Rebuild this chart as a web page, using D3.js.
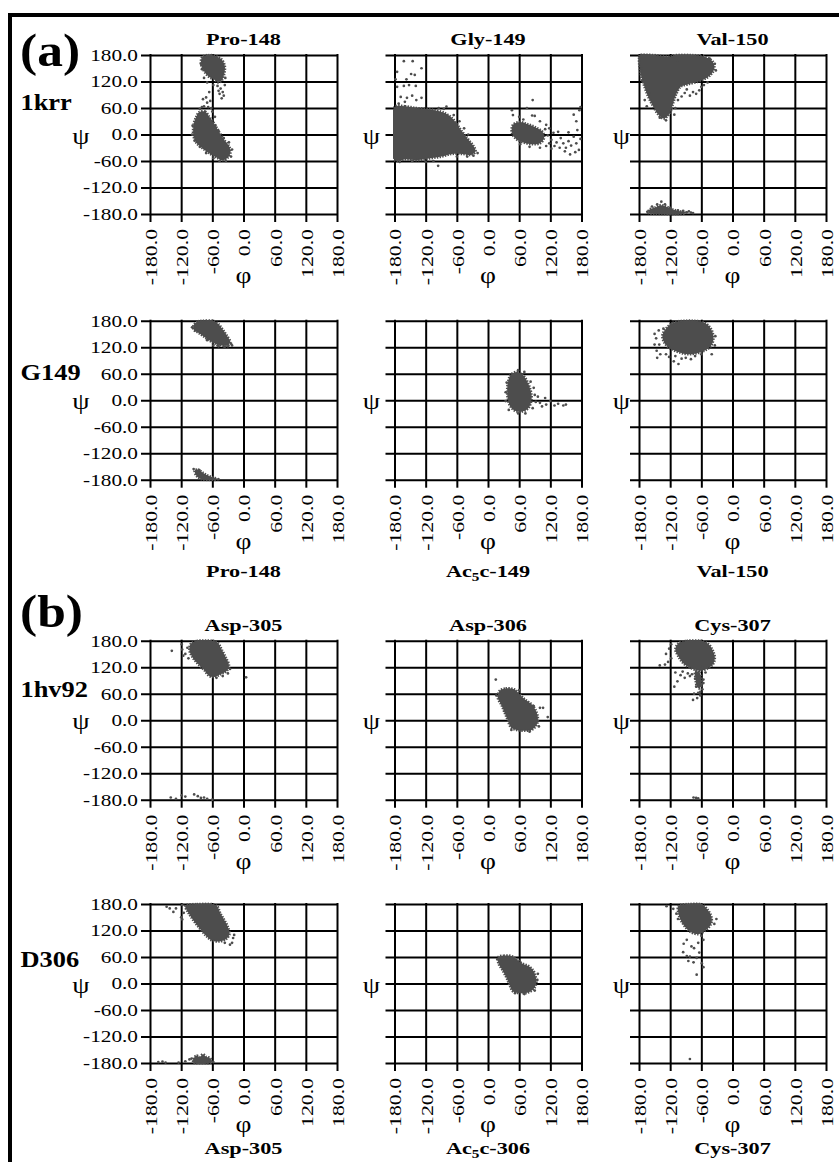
<!DOCTYPE html>
<html>
<head>
<meta charset="utf-8">
<script src="https://cdn.jsdelivr.net/npm/d3@7"></script>
<style>
  html, body { margin: 0; padding: 0; background: #fff; }
  svg { display: block; }
</style>
</head>
<body>
<svg id="fig" width="839" height="1162"></svg>
<script>
// ---- axis ticks (degrees) ----
const phiTicks = [-180, -120, -60, 0, 60, 120, 180];
const psiTicks = [-180, -120, -60, 0, 60, 120, 180];

// ---- labels ----
const groupLabels = ["(a)", "(b)"];
const rowLabels = ["1krr", "G149", "1hv92", "D306"];
const titlesAbove1krr = ["Pro-148", "Gly-149", "Val-150"];
const titlesBelowG149 = ["Pro-148", "Ac_5c-149", "Val-150"];
const titlesAbove1hv92 = ["Asp-305", "Asp-306", "Cys-307"];
const titlesBelowD306 = ["Asp-305", "Ac_5c-306", "Cys-307"];

// ---- (phi, psi) samples: dense regions as outlines, sparse frames as points ----
// 1krr, Pro-148
const pro148_1krr_core = [
  [[-79,176],[-68,180],[-55,178],[-42,170],[-36,155],[-37,138],[-42,122],[-48,118],[-56,124],[-66,130],[-74,140],[-80,152],[-82,165]],
  [[-86,50],[-74,52],[-66,40],[-58,28],[-50,12],[-44,0],[-36,-14],[-28,-26],[-25,-40],[-30,-52],[-40,-58],[-52,-52],[-64,-44],[-78,-32],[-90,-20],[-96,-5],[-97,12],[-95,28],[-91,40]]
];
const pro148_1krr_dots = [[-70,178],[-62,180],[-82,160],[-80,148],[-76,128],[-70,118],[-50,110],[-44,104],[-40,96],[-46,92],[-38,88],[-42,82],[-48,99],[-36,112],[-35,128],[-58,112],[-66,96],[-72,84],[-78,80],[-70,72],[-64,76],[-76,64],[-68,62],[-84,58],[-80,62],[-60,52],[-55,40],[-62,60],[-98,20],[-99,0],[-94,-14],[-84,-28],[-72,-42],[-58,-54],[-46,-60],[-34,-60],[-24,-50],[-22,-34],[-28,-18],[-38,-8],[-48,8],[-54,20]];

// 1krr, Gly-149
const gly149_1krr_core = [
  [[-180,62],[-160,64],[-138,60],[-118,58],[-98,54],[-82,48],[-70,38],[-60,24],[-52,10],[-44,-2],[-36,-14],[-28,-26],[-24,-38],[-32,-46],[-50,-44],[-70,-44],[-90,-50],[-112,-54],[-135,-58],[-158,-56],[-180,-58]],
  [[48,22],[60,28],[75,24],[92,16],[105,6],[108,-8],[100,-20],[85,-22],[68,-18],[54,-10],[46,4]]
];
const gly149_1krr_dots = [[-162,166],[-145,166],[-128,150],[-175,142],[-157,125],[-148,137],[-141,135],[-139,110],[-162,110],[-152,112],[-175,108],[-168,85],[-156,83],[-146,88],[-128,83],[-138,78],[-80,63],[-96,-71],[-120,-62],[-105,-60],[-20,-42],[-28,-48],[-40,-50],[-60,-50],[-146,-60],[-170,-62],[-85,58],[-95,60],[-66,44],[-55,30],[-46,14],[-38,0],[-178,125],[-172,70],[-160,74],
  [86,78],[75,60],[46,55],[48,44],[85,43],[90,42],[60,40],[68,34],[100,30],[112,22],[118,14],[115,-2],[122,-12],[126,4],[132,-18],[135,6],[140,-8],[145,-20],[150,-30],[155,-15],[160,-25],[165,-5],[170,-20],[175,-35],[178,-10],[172,10],[168,-40],[158,-45],[148,-38],[138,-30],[122,-32],[112,-26],[100,-30],[80,-28],[62,-22],[170,30],[176,55],[178,62],[165,45],[155,5],[128,-26],[118,-20],[110,12]];

// 1krr, Val-150
const val150_1krr_core = [
  [[-178,180],[-150,180],[-122,176],[-110,180],[-75,180],[-52,175],[-38,165],[-35,150],[-40,138],[-50,128],[-65,120],[-85,114],[-100,108],[-108,92],[-114,72],[-120,50],[-132,36],[-142,44],[-152,62],[-162,85],[-170,110],[-177,140]],
  [[-160,-170],[-150,-166],[-138,-160],[-126,-164],[-115,-170],[-100,-174],[-90,-176],[-95,-180],[-150,-180],[-162,-178]]
];
const val150_1krr_dots = [[-169,78],[-165,64],[-160,92],[-88,102],[-82,88],[-76,96],[-70,92],[-92,94],[-98,86],[-60,108],[-55,112],[-48,118],[-64,100],[-105,78],[-110,60],[-112,45],[-128,32],[-140,38],[-175,150],[-112,175],[-106,168],[-44,172],[-34,160],[-32,145],[-174,122],
  [-137,-152],[-145,-158],[-130,-158],[-120,-166],[-105,-172],[-95,-173],[-88,-176],[-80,-177],[-76,-178],[-84,-174],[-164,-175],[-155,-163],[-110,-176]];

// G149, Pro-148
const pro148_G149_core = [
  [[-96,170],[-88,178],[-80,180],[-58,180],[-48,172],[-40,160],[-32,146],[-26,134],[-28,126],[-40,124],[-54,128],[-64,134],[-74,142],[-86,152],[-96,160]],
  [[-94,-160],[-88,-157],[-80,-163],[-70,-170],[-58,-175],[-50,-178],[-52,-180],[-78,-180],[-90,-172]]
];
const pro148_G149_dots = [[-99,165],[-92,158],[-24,128],[-22,124],[-30,122],[-36,121],[-48,122],[-58,124],[-70,136],[-50,124],[-45,126],[-38,122],
  [-96,-156],[-85,-158],[-48,-179]];

// G149, Ac5c-149
const ac5c149_G149_core = [
  [[44,58],[56,64],[66,58],[74,46],[80,30],[84,10],[82,-8],[76,-20],[64,-26],[52,-24],[43,-14],[38,4],[37,26],[39,44]]
];
const ac5c149_G149_dots = [[58,68],[70,64],[82,42],[88,28],[90,12],[92,-4],[86,-18],[72,-30],[58,-30],[40,-22],[34,-2],[34,18],[36,40],[100,-6],[110,5],[112,-10],[120,-2],[128,-12],[135,-8],[145,-12],[150,-10],[96,8],[104,-14]];

// G149, Val-150
const val150_G149_core = [
  [[-128,162],[-115,175],[-95,180],[-72,180],[-55,176],[-44,166],[-38,152],[-37,136],[-42,122],[-54,112],[-70,106],[-86,104],[-102,108],[-118,116],[-130,128],[-135,146]]
];
const val150_G149_dots = [[-150,150],[-147,140],[-141,126],[-146,112],[-139,104],[-142,158],[-133,162],[-122,98],[-113,88],[-104,82],[-98,94],[-90,96],[-80,93],[-72,100],[-40,104],[-34,124],[-33,145],[-150,126],[-145,96],[-128,104],[-110,100],[-60,104]];

// 1hv92, Asp-305
const asp305_1hv92_core = [
  [[-102,172],[-90,180],[-60,180],[-50,176],[-42,160],[-34,142],[-28,124],[-32,112],[-44,104],[-56,98],[-66,100],[-76,114],[-88,128],[-98,142],[-104,158]]
];
const asp305_1hv92_dots = [[-138,157],[-119,172],[-118,160],[-116,146],[-112,150],[-108,164],[-106,140],[-26,116],[-30,106],[-40,100],[-52,96],[5,97],
  [-140,-175],[-119,-170],[-112,-173],[-95,-168],[-88,-172],[-82,-176],[-76,-175],[-70,-178],[-60,-180],[-130,-178]];

// 1hv92, Asp-306
const asp306_1hv92_core = [
  [[22,66],[34,72],[50,70],[60,60],[70,48],[84,36],[92,22],[96,6],[94,-10],[84,-22],[70,-24],[55,-22],[44,-16],[38,0],[33,14],[26,34],[19,50]]
];
const asp306_1hv92_dots = [[15,92],[100,28],[106,28],[115,7],[98,-14],[80,-26],[45,-22],[16,56],[60,68],[88,32]];

// 1hv92, Cys-307
const cys307_1hv92_core = [
  [[-104,174],[-88,180],[-60,180],[-46,172],[-38,158],[-34,142],[-38,126],[-50,116],[-64,112],[-80,118],[-94,128],[-104,144],[-110,160]],
  [[-72,110],[-64,108],[-60,94],[-60,80],[-64,72],[-69,78],[-71,94]]
];
const cys307_1hv92_dots = [[-118,172],[-122,162],[-128,150],[-118,140],[-124,132],[-130,126],[-140,124],[-110,108],[-100,102],[-92,96],[-82,100],[-72,94],[-66,86],[-60,80],[-58,70],[-62,64],[-70,76],[-74,60],[-68,50],[-62,56],[-112,76],[-106,88],[-96,110],[-86,106],[-56,92],[-52,108],[-76,46],[-64,100],[-58,120],[-78,104],[-56,84],[-66,62],
  [-75,-175],[-70,-176],[-66,-177]];

// D306, Asp-305
const asp305_D306_core = [
  [[-112,176],[-90,180],[-60,180],[-50,174],[-45,160],[-38,146],[-30,128],[-27,112],[-34,100],[-48,95],[-62,98],[-72,108],[-84,124],[-96,142],[-106,160]],
  [[-96,-170],[-90,-163],[-84,-166],[-78,-160],[-72,-166],[-66,-168],[-60,-176],[-64,-180],[-96,-180]]
];
const asp305_D306_dots = [[-148,174],[-135,162],[-130,170],[-120,150],[-118,145],[-142,170],[-115,160],[-20,103],[-26,88],[-22,92],[-18,110],[-36,92],[-118,178],
  [-164,-178],[-156,-177],[-150,-179],[-104,-172],[-100,-170],[-95,-174],[-112,-176],[-58,-178],[-125,-179]];

// D306, Ac5c-306
const ac5c306_D306_core = [
  [[20,60],[30,63],[45,62],[55,55],[65,46],[80,38],[88,28],[92,14],[93,0],[88,-12],[78,-20],[62,-22],[48,-18],[42,-5],[36,12],[28,30],[20,46]]
];
const ac5c306_D306_dots = [[18,55],[95,8],[90,-16],[70,-24],[52,-22],[96,22]];

// D306, Cys-307
const cys307_D306_core = [
  [[-104,176],[-86,180],[-60,180],[-50,170],[-42,156],[-40,140],[-45,128],[-55,118],[-65,112],[-78,115],[-88,124],[-98,140],[-104,158]]
];
const cys307_D306_dots = [[-127,175],[-114,169],[-108,158],[-105,146],[-31,146],[-35,135],[-88,99],[-79,84],[-74,80],[-94,90],[-82,61],[-69,58],[-59,46],[-75,48],[-85,51],[-56,37],[-69,20],[-64,70],[-66,92],[-56,99],[-95,71],[-88,62],[-60,108],[-82,-171]];

// ---- panel grid ----
const panels = [
  {row: 0, col: 0, core: pro148_1krr_core, dots: pro148_1krr_dots},
  {row: 0, col: 1, core: gly149_1krr_core, dots: gly149_1krr_dots},
  {row: 0, col: 2, core: val150_1krr_core, dots: val150_1krr_dots},
  {row: 1, col: 0, core: pro148_G149_core, dots: pro148_G149_dots},
  {row: 1, col: 1, core: ac5c149_G149_core, dots: ac5c149_G149_dots},
  {row: 1, col: 2, core: val150_G149_core, dots: val150_G149_dots},
  {row: 2, col: 0, core: asp305_1hv92_core, dots: asp305_1hv92_dots},
  {row: 2, col: 1, core: asp306_1hv92_core, dots: asp306_1hv92_dots},
  {row: 2, col: 2, core: cys307_1hv92_core, dots: cys307_1hv92_dots},
  {row: 3, col: 0, core: asp305_D306_core, dots: asp305_D306_dots},
  {row: 3, col: 1, core: ac5c306_D306_core, dots: ac5c306_D306_dots},
  {row: 3, col: 2, core: cys307_D306_core, dots: cys307_D306_dots}
];

// ---- layout ----
const FONT = "'Liberation Serif', 'Times New Roman', serif";
const INK = "#000";
const POINT = "#4d4d4d";
const W = 187, H = 159;
const colX = [150, 394.5, 639];
const rowY = [55, 320.7, 640.7, 904];
const psiLabelOffset = [69, 23, 17.5];
const rowLabelDrop = [55, 59, 56, 62.5];
const titleRows = [
  {row: 0, names: titlesAbove1krr, dy: -10},
  {row: 1, names: titlesBelowG149, dy: H + 97},
  {row: 2, names: titlesAbove1hv92, dy: -10},
  {row: 3, names: titlesBelowD306, dy: H + 91}
];

const x = d3.scaleLinear().domain([-180, 180]).range([0, W]);
const y = d3.scaleLinear().domain([-180, 180]).range([H, 0]);
const fmt = d => d.toFixed(1);

const svg = d3.select("#fig");
svg.append("rect").attr("width", 839).attr("height", 1162).attr("fill", "#fff");

// outer frame
svg.append("rect")
  .attr("x", 10).attr("y", 15).attr("width", 840).attr("height", 1160)
  .attr("fill", "none").attr("stroke", INK).attr("stroke-width", 4);

const blob = d3.line()
  .x(d => x(d[0])).y(d => y(d[1]))
  .curve(d3.curveCatmullRomClosed.alpha(0.5));

panels.forEach((p, i) => {
  const g = svg.append("g").attr("transform", `translate(${colX[p.col]},${rowY[p.row]})`);

  // psi axis: gridlines, ticks, labels (labels on the first column only)
  const ya = g.append("g")
    .call(d3.axisLeft(y).tickValues(psiTicks).tickSize(8).tickPadding(4)
      .tickFormat(p.col === 0 ? fmt : () => ""));
  ya.select(".domain").remove();
  ya.selectAll(".tick line")
    .attr("x1", W).attr("x2", -8)
    .attr("stroke", INK).attr("stroke-width", 2).attr("stroke-linecap", "square");
  ya.selectAll(".tick text")
    .attr("x", 0).attr("dy", "0.34em")
    .attr("transform", "translate(-12,0) scale(1.33,1)")
    .attr("fill", INK)
    .style("font-family", FONT).style("font-size", "16px");

  // phi axis: gridlines, ticks, rotated labels
  const xa = g.append("g").attr("transform", `translate(0,${H})`)
    .call(d3.axisBottom(x).tickValues(phiTicks).tickSize(7).tickFormat(fmt));
  xa.select(".domain").remove();
  xa.selectAll(".tick line")
    .attr("y1", -H).attr("y2", 7)
    .attr("stroke", INK).attr("stroke-width", 2).attr("stroke-linecap", "square");
  xa.selectAll(".tick text")
    .attr("x", 0).attr("y", 0).attr("dy", "0.34em")
    .attr("transform", "translate(1,15) rotate(-90) scale(1.36,1)")
    .attr("text-anchor", "end")
    .attr("fill", INK)
    .style("font-family", FONT).style("font-size", "16px");

  // frames
  const clipId = "plotclip" + i;
  g.append("clipPath").attr("id", clipId)
    .append("rect").attr("x", -1.5).attr("y", -1.5).attr("width", W + 3).attr("height", H + 3);
  const dg = g.append("g").attr("clip-path", `url(#${clipId})`);
  dg.selectAll("path.core").data(p.core).join("path")
    .attr("class", "core")
    .attr("d", blob)
    .attr("fill", POINT).attr("stroke", POINT).attr("stroke-width", 2.6)
    .attr("stroke-dasharray", "1.4 1.3")
    .attr("stroke-linejoin", "round");
  dg.selectAll("circle").data(p.dots).join("circle")
    .attr("cx", d => x(d[0])).attr("cy", d => y(d[1]))
    .attr("r", 1.35).attr("fill", POINT);

  // axis symbols
  g.append("text")
    .attr("transform", `translate(${-psiLabelOffset[p.col]},${y(0) + 1}) scale(1.2,1)`)
    .attr("dy", "0.35em").attr("text-anchor", "middle")
    .style("font-family", FONT).style("font-size", "23px").attr("fill", INK)
    .text("ψ");
  g.append("text")
    .attr("transform", `translate(${W / 2},${H + 61}) scale(1.2,1)`)
    .attr("dy", "0.35em").attr("text-anchor", "middle")
    .style("font-family", FONT).style("font-size", "23px").attr("fill", INK)
    .text("φ");
});

// residue titles (an "_5" marks a subscript digit)
titleRows.forEach(tr => {
  tr.names.forEach((name, c) => {
    const t = svg.append("text")
      .attr("transform", `translate(${colX[c] + W / 2},${rowY[tr.row] + tr.dy}) scale(1.27,1)`)
      .attr("text-anchor", "middle")
      .style("font-family", FONT).style("font-size", "17.5px").style("font-weight", "bold")
      .attr("fill", INK);
    const parts = name.split("_");
    if (parts.length === 1) {
      t.text(name);
    } else {
      t.append("tspan").text(parts[0]);
      t.append("tspan").attr("dy", 4).style("font-size", "12px").text(parts[1][0]);
      t.append("tspan").attr("dy", -4).text(parts[1].slice(1));
    }
  });
});

// structure labels for each row
rowLabels.forEach((lab, r) => {
  svg.append("text")
    .attr("transform", `translate(20.5,${rowY[r] + rowLabelDrop[r]}) scale(1.1,1)`)
    .style("font-family", FONT).style("font-size", "24px").style("font-weight", "bold")
    .attr("fill", INK)
    .text(lab);
});

// group letters
[[groupLabels[0], 66], [groupLabels[1], 627]].forEach(([lab, by]) => {
  svg.append("text")
    .attr("transform", `translate(20,${by}) scale(1.12,1)`)
    .style("font-family", FONT).style("font-size", "46px").style("font-weight", "bold")
    .attr("fill", INK)
    .text(lab);
});
</script>
</body>
</html>
